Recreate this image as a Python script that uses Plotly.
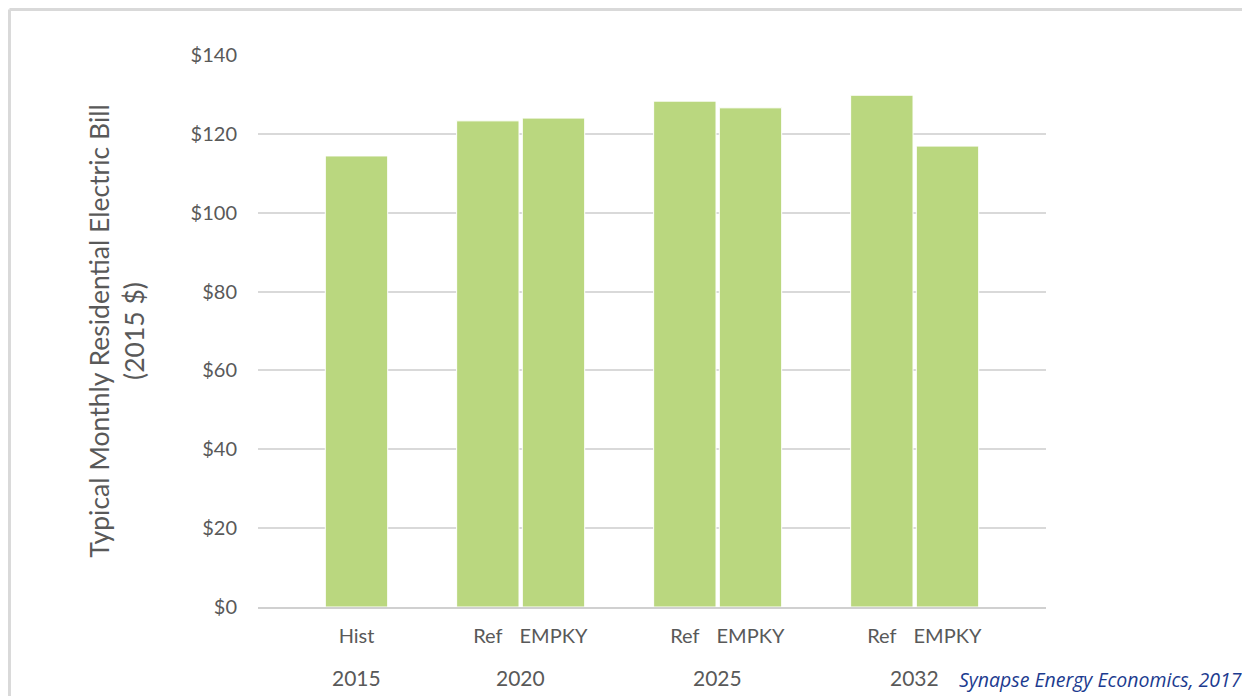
import plotly.graph_objects as go

# slot layout along the x axis (blank slots keep the Excel-like spacing)
slots = ["s0", "Hist 2015", "s1", "Ref 2020", "EMPKY 2020", "s2",
         "Ref 2025", "EMPKY 2025", "s3", "Ref 2032", "EMPKY 2032", "s4"]
bar_slots = ["Hist 2015", "Ref 2020", "EMPKY 2020", "Ref 2025", "EMPKY 2025",
             "Ref 2032", "EMPKY 2032"]
bar_labels = ["Hist", "Ref", "EMPKY", "Ref", "EMPKY", "Ref", "EMPKY"]
bill = [114.4, 123.3, 124.0, 128.3, 126.6, 129.8, 116.9]

years = ["2015", "2020", "2025", "2032"]
year_pos = [1, 3.5, 6.5, 9.5]

y_ticks = [0, 20, 40, 60, 80, 100, 120, 140]

grey = "#595959"
green = "#bad77f"

fig = go.Figure(go.Bar(
    x=bar_slots, y=bill,
    marker=dict(color=green, line=dict(color="white", width=1)),
    hoverinfo="x+y",
))

for yr, pos in zip(years, year_pos):
    fig.add_annotation(x=pos, y=-0.1286, xref="x", yref="paper", yanchor="middle",
                       text=yr, showarrow=False,
                       font=dict(size=21, color=grey, family="Lato"))

fig.add_annotation(x=0.887, y=-0.1322, xref="paper", yref="paper",
                   xanchor="left", yanchor="middle",
                   text="<i>Synapse Energy Economics, 2017</i>", showarrow=False,
                   font=dict(size=19.5, color="#1c3b8f", family="Open Sans"))

# thin frame on top and left
fig.add_shape(type="line", xref="paper", yref="paper", x0=-0.3154, x1=1.26,
              y0=1.0824, y1=1.0824, line=dict(color="#d9d9d9", width=3))
fig.add_shape(type="line", xref="paper", yref="paper", x0=-0.3154, x1=-0.3154,
              y0=1.0824, y1=-0.2, line=dict(color="#d9d9d9", width=3))

fig.update_layout(
    width=1242, height=688,
    margin=dict(l=250, r=204, t=47, b=89),
    plot_bgcolor="white", paper_bgcolor="white",
    bargap=0.05, showlegend=False,
    font=dict(family="Lato", color=grey, size=18),
    xaxis=dict(
        type="category", categoryorder="array", categoryarray=slots,
        range=[-0.5, len(slots) - 0.5],
        tickmode="array", tickvals=bar_slots, ticktext=bar_labels,
        ticks="", ticklabelstandoff=10,
        tickfont=dict(size=20, color=grey),
        showline=True, linecolor="#d0d0d0", linewidth=2,
        showgrid=False, zeroline=False,
    ),
    yaxis=dict(
        range=[0, 140], tickvals=y_ticks,
        ticktext=["$%d" % v for v in y_ticks],
        tickfont=dict(size=20, color=grey),
        showgrid=True, gridcolor="#d9d9d9", gridwidth=2,
        zeroline=False, ticklabelstandoff=20,
        title=dict(text="Typical Monthly Residential Electric Bill<br>(2015 $)",
                   font=dict(size=26.5, color=grey), standoff=38),
    ),
)

fig.write_html("out.html")
